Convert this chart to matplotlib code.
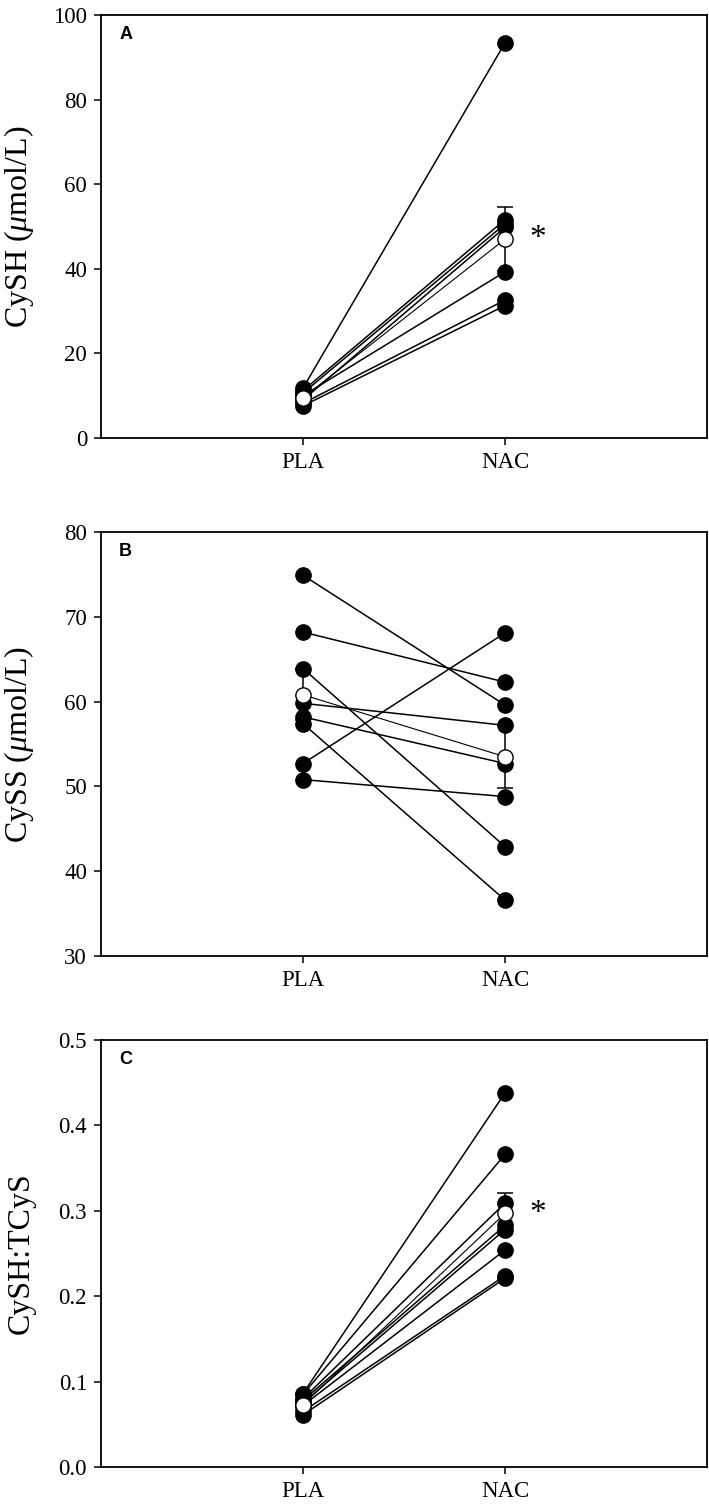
import matplotlib
matplotlib.use("Agg")
import matplotlib.pyplot as plt
import numpy as np

plt.rcParams['font.family'] = ['Liberation Serif', 'DejaVu Serif']
plt.rcParams['mathtext.fontset'] = 'custom'
plt.rcParams['mathtext.rm'] = 'Liberation Serif'
plt.rcParams['mathtext.it'] = 'Liberation Serif:italic'

# ---------------- data ----------------
groups = ["PLA", "NAC"]

# Panel A: CySH (umol/L)
cysh_pla = [11.8, 11.2, 10.6, 9.0, 10.0, 8.2, 7.6]
cysh_nac = [93.4, 51.6, 50.6, 49.8, 39.3, 32.6, 31.3]
cysh_mean = [9.5, 47.0]
cysh_se = [0.6, 7.5]

# Panel B: CySS (umol/L)
cyss_pla = [74.9, 68.2, 63.9, 59.8, 58.2, 57.4, 52.7, 50.8]
cyss_nac = [59.6, 62.3, 42.9, 57.2, 52.7, 36.6, 68.1, 48.8]
cyss_mean = [60.8, 53.5]
cyss_se = [3.0, 3.7]

# Panel C: CySH:TCyS
ratio_pla = [0.086, 0.085, 0.080, 0.078, 0.075, 0.072, 0.065, 0.061]
ratio_nac = [0.438, 0.366, 0.309, 0.283, 0.278, 0.254, 0.224, 0.221]
ratio_mean = [0.073, 0.297]
ratio_se = [0.003, 0.024]

panels = [
    dict(pla=cysh_pla, nac=cysh_nac, mean=cysh_mean, se=cysh_se,
         ylim=(0, 100), yticks=[0, 20, 40, 60, 80, 100], fmt="{:.0f}",
         ylabel=r"CySH ($\mu$mol/L)", letter="A", star=True),
    dict(pla=cyss_pla, nac=cyss_nac, mean=cyss_mean, se=cyss_se,
         ylim=(30, 80), yticks=[30, 40, 50, 60, 70, 80], fmt="{:.0f}",
         ylabel=r"CySS ($\mu$mol/L)", letter="B", star=False),
    dict(pla=ratio_pla, nac=ratio_nac, mean=ratio_mean, se=ratio_se,
         ylim=(0, 0.5), yticks=[0.0, 0.1, 0.2, 0.3, 0.4, 0.5], fmt="{:.1f}",
         ylabel="CySH:TCyS", letter="C", star=True),
]

W, H = 709, 1509
fig = plt.figure(figsize=(W / 100, H / 100), dpi=100)

boxes = [(15, 438), (532, 956), (1040, 1467)]
left_px, right_px = 101, 707

xpos = np.array([1, 2])
for p, (top_px, bot_px) in zip(panels, boxes):
    ax = fig.add_axes([left_px / W, 1 - bot_px / H,
                       (right_px - left_px) / W, (bot_px - top_px) / H])
    for a, b in zip(p["pla"], p["nac"]):
        ax.plot(xpos, [a, b], color="black", lw=1.1, zorder=2)
    for a, b in zip(p["pla"], p["nac"]):
        ax.plot(xpos, [a, b], ls="none", marker="o", ms=11,
                mfc="black", mec="black", zorder=3)
    ax.errorbar(xpos, p["mean"], yerr=p["se"], fmt="none", ecolor="black",
                elinewidth=1.1, capsize=5.5, capthick=1.1, zorder=4)
    ax.plot(xpos, p["mean"], color="black", lw=0.8, zorder=4)
    ax.plot(xpos, p["mean"], ls="none", marker="o", ms=11,
            mfc="white", mec="black", mew=1.0, zorder=5)
    if p["star"]:
        ax.text(2.16, p["mean"][1], "*", fontsize=24, ha="center",
                va="center")
    ax.set_xlim(0, 3)
    ax.set_ylim(*p["ylim"])
    ax.set_xticks(xpos)
    ax.set_xticklabels(groups, fontsize=16.5)
    ax.set_yticks(p["yticks"])
    ax.set_yticklabels([p["fmt"].format(v) for v in p["yticks"]], fontsize=16.5)
    ax.tick_params(axis="both", direction="out", length=5, width=1.1,
                   top=False, right=False, pad=5)
    for s in ax.spines.values():
        s.set_linewidth(1.3)
    ax.set_ylabel(p["ylabel"], fontsize=23)
    ax.yaxis.set_label_coords(-0.107, 0.5)
    ax.text(0.03, 0.975, p["letter"], transform=ax.transAxes, ha="left",
            va="top", fontsize=13, fontweight="bold",
            family=["Liberation Sans", "DejaVu Sans"])

fig.savefig("out.png", dpi=100)
